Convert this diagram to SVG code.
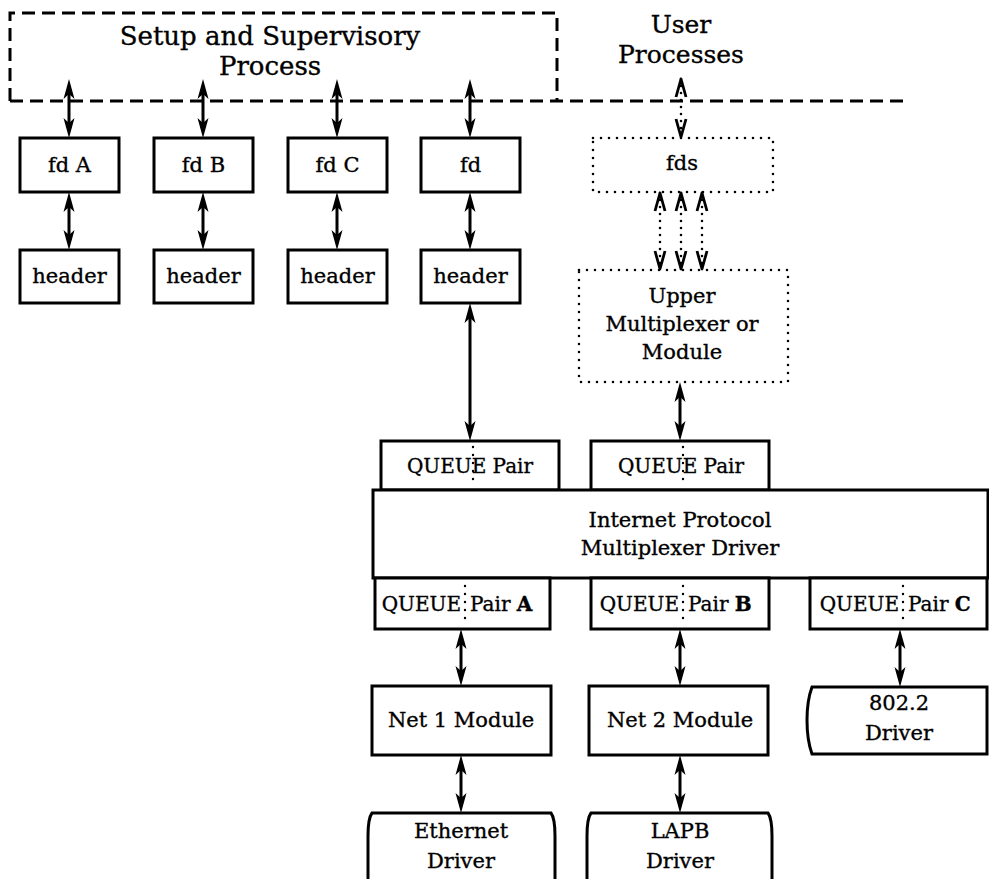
<svg xmlns="http://www.w3.org/2000/svg" width="989" height="879" viewBox="0 0 989 879">
<style>
.box{fill:#fff;stroke:#000;stroke-width:3}
.dotbox{fill:none;stroke:#000;stroke-width:2.6;stroke-dasharray:0 8;stroke-linecap:round}
.dash{fill:none;stroke:#000;stroke-width:3;stroke-dasharray:13 7}
.div{fill:none;stroke:#000;stroke-width:2.4;stroke-dasharray:0 8;stroke-linecap:round}
.t{font-family:"DejaVu Serif","Liberation Serif",serif;font-size:21px;text-anchor:middle;fill:#000;stroke:#000;stroke-width:0.35}
.q{font-family:"DejaVu Serif","Liberation Serif",serif;font-size:20px;fill:#000;stroke:#000;stroke-width:0.35}
.big{font-size:26px}
.conn{fill:none;stroke:#000;stroke-width:3;marker-start:url(#ah);marker-end:url(#ah)}
.dconn{fill:none;stroke:#000;stroke-width:2.6;stroke-dasharray:0 7;stroke-linecap:round;marker-start:url(#oh);marker-end:url(#oh)}
</style>
<defs>
<marker id="ah" markerUnits="userSpaceOnUse" markerWidth="20" markerHeight="12" viewBox="0 0 20 12" refX="11" refY="6" orient="auto-start-reverse">
<path d="M20,6 L0,0.5 L5,6 L0,11.5 Z" fill="#000"/>
</marker>
<marker id="oh" markerUnits="userSpaceOnUse" markerWidth="22" markerHeight="14" viewBox="0 0 22 14" refX="19" refY="7" orient="auto-start-reverse">
<path d="M1,2 L19,7 L1,12" fill="none" stroke="#000" stroke-width="2.8" stroke-linejoin="round"/>
</marker>
</defs>

<g id="setup">
<path class="dash" d="M10,101 L10,13 L557,13 L557,101"/>
<path class="dash" d="M10,101 L905,101"/>
<text class="t big" x="270" y="45">Setup and Supervisory</text>
<text class="t big" x="270" y="75">Process</text>
</g>
<g id="user">
<text class="t" style="font-size:25px" x="681" y="33">User</text>
<text class="t" style="font-size:25px" x="681" y="63">Processes</text>
</g>

<g id="fdA"><rect class="box" x="20" y="138" width="99" height="54"/><text class="t" x="69.5" y="172">fd A</text></g>
<g id="fdB"><rect class="box" x="154" y="138" width="99" height="54"/><text class="t" x="203.5" y="172">fd B</text></g>
<g id="fdC"><rect class="box" x="288" y="138" width="99" height="54"/><text class="t" x="337.5" y="172">fd C</text></g>
<g id="fd"><rect class="box" x="421" y="138" width="99" height="54"/><text class="t" x="470.5" y="172">fd</text></g>

<g id="headerA"><rect class="box" x="20" y="250" width="99" height="53"/><text class="t" x="69.5" y="283">header</text></g>
<g id="headerB"><rect class="box" x="154" y="250" width="99" height="53"/><text class="t" x="203.5" y="283">header</text></g>
<g id="headerC"><rect class="box" x="288" y="250" width="99" height="53"/><text class="t" x="337.5" y="283">header</text></g>
<g id="header"><rect class="box" x="421" y="250" width="99" height="53"/><text class="t" x="470.5" y="283">header</text></g>

<g id="fds"><rect class="dotbox" x="593" y="138" width="180" height="54"/><text class="t" x="682" y="170">fds</text></g>
<g id="upper"><rect class="dotbox" x="579" y="270" width="209" height="112"/>
<text class="t" x="682" y="303">Upper</text>
<text class="t" x="682" y="331">Multiplexer or</text>
<text class="t" x="682" y="359">Module</text></g>

<g id="qp1"><rect class="box" x="381" y="441" width="178" height="49"/><line class="div" x1="473" y1="447" x2="473" y2="487"/><text class="q" x="470" y="473" text-anchor="middle">QUEUE Pair</text></g>
<g id="qp2"><rect class="box" x="591" y="441" width="178" height="49"/><line class="div" x1="683" y1="447" x2="683" y2="487"/><text class="q" x="681" y="473" text-anchor="middle">QUEUE Pair</text></g>

<g id="ip"><rect class="box" x="373" y="490" width="615" height="88"/>
<text class="t" x="680" y="527">Internet Protocol</text>
<text class="t" x="680" y="555">Multiplexer Driver</text></g>

<g id="qpA"><rect class="box" x="375" y="578" width="175" height="51"/><line class="div" x1="465" y1="586" x2="465" y2="626"/>
<text class="q" x="461" y="611" text-anchor="end">QUEUE</text><text class="q" x="470" y="611">Pair <tspan font-weight="bold">A</tspan></text></g>
<g id="qpB"><rect class="box" x="591" y="578" width="178" height="51"/><line class="div" x1="683" y1="586" x2="683" y2="626"/>
<text class="q" x="679" y="611" text-anchor="end">QUEUE</text><text class="q" x="688" y="611">Pair <tspan font-weight="bold">B</tspan></text></g>
<g id="qpC"><rect class="box" x="810" y="578" width="177" height="51"/><line class="div" x1="903" y1="586" x2="903" y2="626"/>
<text class="q" x="899" y="611" text-anchor="end">QUEUE</text><text class="q" x="908" y="611">Pair <tspan font-weight="bold">C</tspan></text></g>

<g id="net1"><rect class="box" x="372" y="686" width="179" height="69"/><text class="t" x="461" y="727">Net 1 Module</text></g>
<g id="net2"><rect class="box" x="589" y="686" width="179" height="69"/><text class="t" x="680" y="727">Net 2 Module</text></g>
<g id="d8022"><path class="box" d="M987,687 L812,687 C808,698 807,710 807,720 C807,731 808,743 812,754 L987,754 Z"/>
<text class="t" x="899" y="710">802.2</text><text class="t" x="899" y="740">Driver</text></g>
<g id="ether"><path class="box" d="M368,885 L368,836 C368,824 369,817 372,813 L551,813 C554,817 555,824 555,836 L555,885"/>
<text class="t" x="461" y="838">Ethernet</text><text class="t" x="461" y="868">Driver</text></g>
<g id="lapb"><path class="box" d="M587,885 L587,836 C587,824 588,817 591,813 L768,813 C771,817 772,824 772,836 L772,885"/>
<text class="t" x="680" y="838">LAPB</text><text class="t" x="680" y="868">Driver</text></g>

<g id="connectors">
<line class="conn" x1="69" y1="88" x2="69" y2="129"/>
<line class="conn" x1="203" y1="88" x2="203" y2="129"/>
<line class="conn" x1="337" y1="88" x2="337" y2="129"/>
<line class="conn" x1="470" y1="88" x2="470" y2="129"/>
<line class="conn" x1="69" y1="201" x2="69" y2="241"/>
<line class="conn" x1="203" y1="201" x2="203" y2="241"/>
<line class="conn" x1="337" y1="201" x2="337" y2="241"/>
<line class="conn" x1="470" y1="201" x2="470" y2="241"/>
<line class="conn" x1="470" y1="312" x2="470" y2="432"/>
<line class="conn" x1="680" y1="391" x2="680" y2="432"/>
<line class="conn" x1="461" y1="638" x2="461" y2="677"/>
<line class="conn" x1="680" y1="638" x2="680" y2="677"/>
<line class="conn" x1="900" y1="638" x2="900" y2="678"/>
<line class="conn" x1="461" y1="764" x2="461" y2="804"/>
<line class="conn" x1="680" y1="764" x2="680" y2="804"/>
<line class="dconn" x1="681" y1="79" x2="681" y2="137"/>
<line class="dconn" x1="660" y1="193" x2="660" y2="269"/>
<line class="dconn" x1="681" y1="193" x2="681" y2="269"/>
<line class="dconn" x1="702" y1="193" x2="702" y2="269"/>
</g>
</svg>
